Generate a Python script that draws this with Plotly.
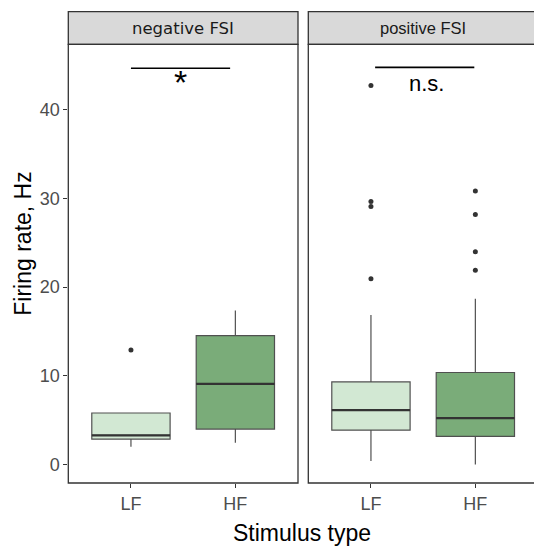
import plotly.graph_objects as go

# ---------------- data ----------------
categories = ["LF", "HF"]
facets = ["negative FSI", "positive FSI"]

neg_q1 = [2.85, 3.98]
neg_median = [3.27, 9.08]
neg_q3 = [5.80, 14.53]
neg_lower = [1.98, 2.43]
neg_upper = [5.80, 17.35]
neg_outliers_LF = [12.9]
neg_outliers_HF = []

pos_q1 = [3.86, 3.15]
pos_median = [6.12, 5.22]
pos_q3 = [9.31, 10.37]
pos_lower = [0.37, 0.0]
pos_upper = [16.85, 18.7]
pos_outliers_LF = [42.75, 29.67, 29.1, 20.96]
pos_outliers_HF = [30.84, 28.2, 24.0, 21.9]

sig_labels = ["*", "n.s."]
sig_bar_y = [44.7, 44.8]

y_ticks = [0, 10, 20, 30, 40]

# ---------------- styling ----------------
W, H = 534, 546
fills = ["#D2E8D3", "#7AAC79"]
box_line = "#505050"
dark = "#333333"
tick_grey = "#4D4D4D"
FONT = "Liberation Sans, Arial, sans-serif"

# pixel geometry of the panels
p1_left, p1_right = 68.3, 298.0
p2_left = 308.3
panel_top, panel_bot = 44.3, 483.0
strip_top = 11.7
unit_px = (p1_right - p1_left) / 2.2
x2_max = 0.4 + (W - p2_left) / unit_px
p2_right_virtual = p2_left + 2.2 * unit_px


def px(xp):
    return xp / W


def py(yp):
    return 1 - yp / H


fig = go.Figure()

panels = [
    ("x", "y", neg_q1, neg_median, neg_q3, neg_lower, neg_upper, [neg_outliers_LF, neg_outliers_HF]),
    ("x2", "y2", pos_q1, pos_median, pos_q3, pos_lower, pos_upper, [pos_outliers_LF, pos_outliers_HF]),
]

for xa, ya, q1s, meds, q3s, los, his, outs in panels:
    for i, cat in enumerate(categories):
        xpos = i + 1
        fig.add_trace(go.Box(
            x=[xpos], q1=[q1s[i]], median=[meds[i]], q3=[q3s[i]],
            lowerfence=[los[i]], upperfence=[his[i]],
            width=0.75, whiskerwidth=0, boxpoints=False,
            fillcolor=fills[i], line=dict(color=box_line, width=1.2),
            xaxis=xa, yaxis=ya, showlegend=False, hoverinfo="skip",
        ))
        # thicker median line
        fig.add_trace(go.Scatter(
            x=[xpos - 0.375, xpos + 0.375], y=[meds[i], meds[i]],
            mode="lines", line=dict(color=dark, width=2.3),
            xaxis=xa, yaxis=ya, showlegend=False, hoverinfo="skip",
        ))
        if outs[i]:
            fig.add_trace(go.Scatter(
                x=[xpos] * len(outs[i]), y=outs[i], mode="markers",
                marker=dict(color=dark, size=5),
                xaxis=xa, yaxis=ya, showlegend=False, hoverinfo="skip",
            ))

shapes = []
# panel borders
shapes.append(dict(type="rect", xref="paper", yref="paper",
                   x0=px(p1_left), x1=px(p1_right), y0=py(panel_bot), y1=py(panel_top),
                   line=dict(color=dark, width=1.3), fillcolor="rgba(0,0,0,0)", layer="above"))
shapes.append(dict(type="rect", xref="paper", yref="paper",
                   x0=px(p2_left), x1=px(p2_right_virtual), y0=py(panel_bot), y1=py(panel_top),
                   line=dict(color=dark, width=1.3), fillcolor="rgba(0,0,0,0)", layer="above"))
# strips
for xl, xr in [(p1_left, p1_right), (p2_left, p2_right_virtual)]:
    shapes.append(dict(type="rect", xref="paper", yref="paper",
                       x0=px(xl), x1=px(xr), y0=py(panel_top), y1=py(strip_top),
                       line=dict(color=dark, width=1.3), fillcolor="#D9D9D9", layer="below"))
# significance bars
shapes.append(dict(type="line", xref="x", yref="y", x0=1.0, x1=1.95,
                   y0=sig_bar_y[0], y1=sig_bar_y[0], line=dict(color="black", width=1.6)))
shapes.append(dict(type="line", xref="x2", yref="y2", x0=1.04, x1=1.99,
                   y0=sig_bar_y[1], y1=sig_bar_y[1], line=dict(color="black", width=1.6)))

annotations = []
strip_fonts = ["DejaVu Sans, Verdana, sans-serif", FONT]
strip_centers = [(p1_left + p1_right) / 2, (p2_left + p2_right_virtual) / 2]
for k, name in enumerate(facets):
    annotations.append(dict(text=name, xref="paper", yref="paper",
                            x=px(strip_centers[k]), y=py((strip_top + panel_top) / 2),
                            xanchor="center", yanchor="middle", showarrow=False,
                            font=dict(family=strip_fonts[k], size=16.5, color="#1A1A1A")))
annotations.append(dict(text=sig_labels[0], xref="x", yref="y", x=1.475, y=43.2,
                        xanchor="center", yanchor="middle", showarrow=False,
                        font=dict(family=FONT, size=34, color="black")))
annotations.append(dict(text=sig_labels[1], xref="x2", yref="y2", x=1.53, y=42.96,
                        xanchor="center", yanchor="middle", showarrow=False,
                        font=dict(family=FONT, size=22, color="black")))
# axis titles
annotations.append(dict(text="Stimulus type", xref="paper", yref="paper",
                        x=px(302.2), y=py(533.0), xanchor="center", yanchor="middle",
                        showarrow=False, font=dict(family=FONT, size=23, color="black")))
annotations.append(dict(text="Firing rate, Hz", xref="paper", yref="paper",
                        x=px(22.7), y=py(244), xanchor="center", yanchor="middle",
                        textangle=-90, showarrow=False,
                        font=dict(family=FONT, size=23, color="black")))

xcommon = dict(tickmode="array", tickvals=[1, 2], ticktext=categories,
               ticks="outside", ticklen=4, tickwidth=1.2, tickcolor=dark,
               showgrid=False, zeroline=False, showline=False, automargin=False,
               tickfont=dict(family=FONT, size=18, color=tick_grey), fixedrange=True)

fig.update_layout(
    width=W, height=H,
    margin=dict(l=0, r=0, t=0, b=0),
    paper_bgcolor="white", plot_bgcolor="white",
    showlegend=False,
    xaxis=dict(domain=[px(p1_left), px(p1_right)], range=[0.4, 2.6], anchor="y", **xcommon),
    xaxis2=dict(domain=[px(p2_left), 1.0], range=[0.4, x2_max], anchor="y2", **xcommon),
    yaxis=dict(domain=[py(panel_bot), py(panel_top)], range=[-2.1, 47.4], anchor="x",
               tickmode="array", tickvals=y_ticks, ticks="outside", ticklen=4,
               tickwidth=1.2, tickcolor=dark, showgrid=False, zeroline=False,
               showline=False, automargin=False,
               tickfont=dict(family=FONT, size=18, color=tick_grey)),
    yaxis2=dict(domain=[py(panel_bot), py(panel_top)], range=[-2.1, 47.4], anchor="x2",
                matches="y", showticklabels=False, ticks="", showgrid=False,
                zeroline=False, showline=False),
    shapes=shapes,
    annotations=annotations,
)

fig.write_html("out.html", config={"displayModeBar": False},
               post_script="document.body.style.margin='0px';document.body.style.overflow='hidden';")
